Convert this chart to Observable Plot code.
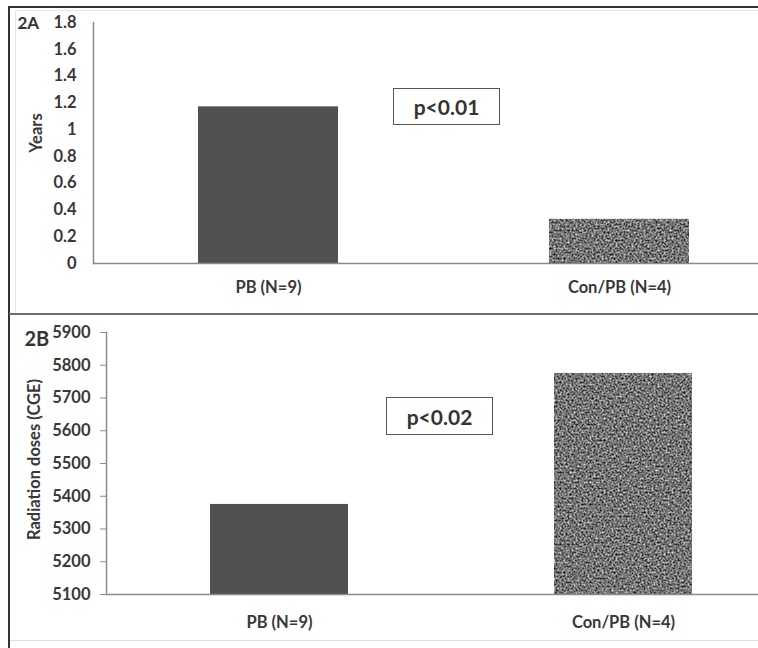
<!DOCTYPE html>
<html>
<head>
<meta charset="utf-8">
<script src="https://cdn.jsdelivr.net/npm/d3@7"></script>
<script src="https://cdn.jsdelivr.net/npm/@observablehq/plot@0.6"></script>
<style>
  html, body { margin: 0; padding: 0; background: #fff; }
  #wrap { position: relative; width: 758px; height: 648px; overflow: hidden; font-family: Lato, "Open Sans", sans-serif; }
  .ln { position: absolute; }
  .panel { position: absolute; left: 0; }
  .pbox { position: absolute; box-sizing: border-box; border: 1px solid #555; background: #fff;
          display: flex; align-items: center; justify-content: center;
          font-family: Lato, sans-serif; font-weight: bold; font-size: 21px; color: #333; }
</style>
</head>
<body>
<svg width="0" height="0" style="position:absolute">
  <defs>
    <filter id="grain" filterUnits="objectBoundingBox" x="0" y="0" width="1" height="1" color-interpolation-filters="sRGB">
      <feTurbulence type="fractalNoise" baseFrequency="0.5" numOctaves="3" seed="7" result="t"/>
      <feColorMatrix in="t" type="matrix" values="1 0 0 0 0  1 0 0 0 0  1 0 0 0 0  0 0 0 0 1" result="g"/>
      <feComponentTransfer in="g">
        <feFuncR type="linear" slope="1.25" intercept="-0.17"/>
        <feFuncG type="linear" slope="1.25" intercept="-0.17"/>
        <feFuncB type="linear" slope="1.25" intercept="-0.17"/>
      </feComponentTransfer>
    </filter>
    <pattern id="noise" patternUnits="userSpaceOnUse" x="0" y="0" width="400" height="400">
      <rect width="400" height="400" fill="#777" filter="url(#grain)"/>
    </pattern>
  </defs>
</svg>
<div id="wrap">
  <div class="ln" style="left:8px;top:6px;width:750px;height:2px;background:#333"></div>
  <div class="ln" style="left:8px;top:6px;width:2px;height:642px;background:#333"></div>
  <div class="ln" style="left:15px;top:10px;width:743px;height:1px;background:#e4e4e4"></div>
  <div class="ln" style="left:15px;top:10px;width:1px;height:303px;background:#e4e4e4"></div>
  <div class="ln" style="left:10px;top:640px;width:748px;height:1px;background:#e0e0e0"></div>
  <div id="pa" class="panel" style="top:0"></div>
  <div id="pb" class="panel" style="top:314px"></div>
  <div class="ln" style="left:9px;top:313px;width:749px;height:2px;background:#6e6e6e"></div>
  <div class="pbox" style="left:393px;top:88px;width:107px;height:37px">p&lt;0.01</div>
  <div class="pbox" style="left:386px;top:397px;width:107px;height:38px">p&lt;0.02</div>
</div>
<script>
// ---- data ----
const categories = ["PB (N=9)", "Con/PB (N=4)"];
const yearsValues = [1.17, 0.33];
const doseValues = [5375, 5775];
const yearTicks = [0, 0.2, 0.4, 0.6, 0.8, 1, 1.2, 1.4, 1.6, 1.8];
const doseTicks = [5100, 5200, 5300, 5400, 5500, 5600, 5700, 5800, 5900];
const fills = ["#505050", "url(#noise)"];

const yearsData = categories.map((c, i) => ({cat: c, value: yearsValues[i]}));
const doseData = categories.map((c, i) => ({cat: c, value: doseValues[i]}));

const FS = 16.5;
const baseStyle = {fontFamily: "Lato, 'Open Sans', sans-serif", fontWeight: "bold", fontSize: FS + "px", color: "#383838", background: "transparent", overflow: "visible"};
const axisColor = "#8a8a8a";

function panel({data, domain, ticks, yLabel, panelLabel, height, mTop, mBottom, mLeft, tickSize, tickPad, xPad, labelDx, labelDy, titleDx, titleDy, titleSize}) {
  return Plot.plot({
    width: 758,
    height,
    marginLeft: mLeft,
    marginRight: 0,
    marginTop: mTop,
    marginBottom: mBottom,
    style: baseStyle,
    x: {domain: categories, range: [mLeft, 795], paddingInner: 0.6, paddingOuter: 0.3},
    y: {domain, ticks},
    marks: [
      Plot.barY(data.filter((d, i) => i === 0), {x: "cat", y1: domain[0], y2: "value", fill: fills[0]}),
      Plot.barY(data.filter((d, i) => i === 1), {x: "cat", y1: domain[0], y2: "value", fill: fills[1]}),
      Plot.ruleY([domain[0]], {stroke: axisColor, strokeWidth: 1.5}),
      Plot.frame({anchor: "left", stroke: axisColor, strokeWidth: 1.5}),
      Plot.axisY({ticks, tickSize, tickPadding: tickPad, stroke: axisColor, label: null, tickFormat: d => String(d), fontSize: FS}),
      Plot.axisX({tickSize: 0, tickPadding: xPad, label: null, fontSize: FS}),
      Plot.text([yLabel], {frameAnchor: "left", textAnchor: "middle", rotate: -90, dx: labelDx, dy: labelDy, fontSize: 16.5, fontWeight: "bold", fill: "#383838"}),
      Plot.text([panelLabel], {frameAnchor: "top-left", textAnchor: "start", lineAnchor: "top", dx: titleDx, dy: titleDy, fontSize: titleSize, fontWeight: "bold", fill: "#333"})
    ]
  });
}

const a = panel({data: yearsData, domain: [0, 1.8], ticks: yearTicks, yLabel: "Years", panelLabel: "2A",
  height: 314, mTop: 22, mBottom: 51, mLeft: 93, tickSize: 0, tickPad: 17, xPad: 18,
  labelDx: -57, labelDy: -10, titleDx: -76, titleDy: -6, titleSize: 17});
document.getElementById("pa").appendChild(a);

const b = panel({data: doseData, domain: [5100, 5900], ticks: doseTicks, yLabel: "Radiation doses (CGE)", panelLabel: "2B",
  height: 334, mTop: 18, mBottom: 54, mLeft: 106, tickSize: 6, tickPad: 10, xPad: 22,
  labelDx: -72, labelDy: -4, titleDx: -82, titleDy: -1, titleSize: 20});
document.getElementById("pb").appendChild(b);
</script>
</body>
</html>
